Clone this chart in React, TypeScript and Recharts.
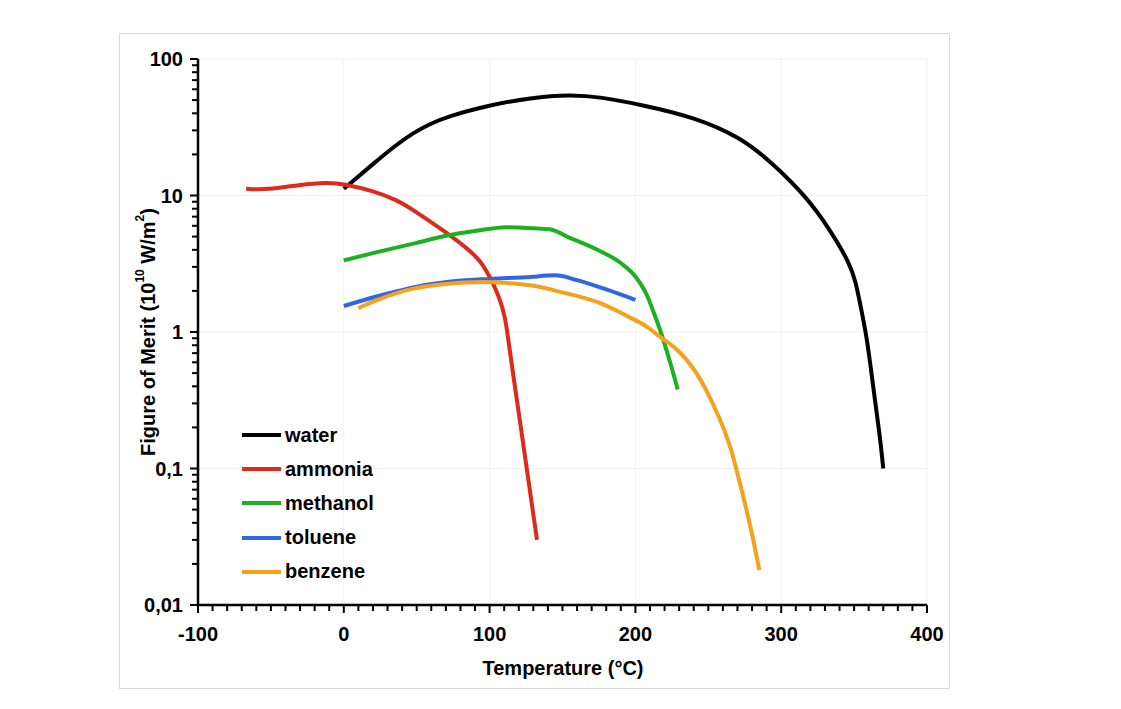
import React from 'react';
import { LineChart, Line, XAxis, YAxis, ReferenceLine, Legend } from 'recharts';

// ---- data (temperature °C, figure of merit 10^10 W/m^2) ----
const waterT = [0, 20, 35, 47.5, 59, 71, 100, 128, 155, 176, 205, 240, 272, 294, 318, 333.5, 347, 351.3, 354, 358.8, 363, 367.8, 370];
const waterV = [11.2, 17, 23.1, 28.7, 33.4, 37.9, 46, 52, 55, 52.7, 46, 37.6, 26.8, 17.3, 9.6, 5.6, 3.2, 2.29, 1.63, 0.92, 0.4, 0.17, 0.1];

const ammoniaT = [-67, -53, -30, -12, 0, 20, 36, 45, 71, 85, 93.4, 100.3, 107, 110.6, 112.6, 116, 121, 127, 132.5];
const ammoniaV = [11.2, 11.0, 12.0, 12.5, 12.2, 10.8, 9.3, 8.2, 5.3, 4.06, 3.37, 2.53, 1.77, 1.29, 0.92, 0.5, 0.216, 0.077, 0.03];

const methanolT = [0, 25, 50, 71, 90, 112, 130, 141, 155, 174, 190, 200, 208, 213, 217, 224, 229];
const methanolV = [3.35, 3.9, 4.5, 5.1, 5.5, 5.85, 5.75, 5.65, 4.9, 4.0, 3.2, 2.55, 1.85, 1.35, 1.03, 0.59, 0.38];

const tolueneT = [0, 25, 50, 75, 100, 125, 145, 160, 180, 200];
const tolueneV = [1.55, 1.85, 2.15, 2.35, 2.45, 2.52, 2.6, 2.4, 2.05, 1.72];

const benzeneT = [10, 25, 47, 70, 95, 128, 150, 175, 195, 208, 217, 228, 237, 245, 253, 265, 274, 280, 285];
const benzeneV = [1.5, 1.75, 2.07, 2.25, 2.32, 2.2, 1.95, 1.64, 1.3, 1.09, 0.92, 0.75, 0.59, 0.44, 0.3, 0.144, 0.062, 0.033, 0.018];

const seriesNames = ['water', 'ammonia', 'methanol', 'toluene', 'benzene'];
const seriesColors = ['#000000', '#dc2a1c', '#1fb01f', '#2f66e6', '#f6a11c'];
const seriesCurves: any[] = ['basis', 'basis', 'monotone', 'monotone', 'monotone'];

const xMajorTicks = [-100, 0, 100, 200, 300, 400];
const xMinorTicks = Array.from({ length: 51 }, (_, i) => -100 + i * 10);
const yMajorTicks = [0.01, 0.1, 1, 10, 100];
const yAllTicks = [
  0.01, 0.02, 0.03, 0.04, 0.05, 0.06, 0.07, 0.08, 0.09,
  0.1, 0.2, 0.3, 0.4, 0.5, 0.6, 0.7, 0.8, 0.9,
  1, 2, 3, 4, 5, 6, 7, 8, 9,
  10, 20, 30, 40, 50, 60, 70, 80, 90, 100,
];
const yTickLabels: Record<string, string> = { '0.01': '0,01', '0.1': '0,1', '1': '1', '10': '10', '100': '100' };

const build = (ts: number[], vs: number[]) => ts.map((t, i) => ({ t, v: vs[i] }));
const seriesData = [
  build(waterT, waterV),
  build(ammoniaT, ammoniaV),
  build(methanolT, methanolV),
  build(tolueneT, tolueneV),
  build(benzeneT, benzeneV),
];

const FONT = '"Liberation Sans", Arial, Helvetica, sans-serif';
const FS = 20;

const YTick = (props: any) => {
  const { x, y, payload } = props;
  const v = payload.value;
  const isMajor = yMajorTicks.some((m) => Math.abs(m - v) < 1e-9);
  const axisX = x + 15;
  return (
    <g>
      <line x1={axisX - (isMajor ? 8 : 6)} x2={axisX} y1={y} y2={y} stroke="#000" strokeWidth={2} />
      {isMajor && (
        <text x={x} y={y} dy="0.36em" textAnchor="end" fontFamily={FONT} fontWeight="bold" fontSize={FS} fill="#000">
          {yTickLabels[String(v)]}
        </text>
      )}
    </g>
  );
};

const XTick = (props: any) => {
  const { x, y, payload } = props;
  const v = payload.value;
  const isMajor = xMajorTicks.includes(v);
  const axisY = y - 22;
  return (
    <g>
      <line x1={x} x2={x} y1={axisY} y2={axisY + (isMajor ? 8 : 6)} stroke="#000" strokeWidth={2} />
      {isMajor && (
        <text x={x} y={y} dy="0.71em" textAnchor="middle" fontFamily={FONT} fontWeight="bold" fontSize={FS} fill="#000">
          {String(v)}
        </text>
      )}
    </g>
  );
};

const YLabel = () => (
  <text
    x={140}
    y={324}
    transform="rotate(-90, 140, 324)"
    textAnchor="middle"
    dominantBaseline="central"
    fontFamily={FONT}
    fontWeight="bold"
    fontSize={FS}
    fill="#000"
  >
    Figure of Merit (10
    <tspan dy={-8} fontSize={12}>10</tspan>
    <tspan dy={8}> W/m</tspan>
    <tspan dy={-8} fontSize={12}>2</tspan>
    <tspan dy={8}>)</tspan>
  </text>
);

const XLabel = () => (
  <text x={555} y={660} textAnchor="middle" dominantBaseline="central" fontFamily={FONT} fontWeight="bold" fontSize={FS} fill="#000">
    Temperature (°C)
  </text>
);

const LegendContent = (props: any) => {
  const payload = [...(props.payload || [])].sort(
    (a: any, b: any) => seriesNames.indexOf(a.value) - seriesNames.indexOf(b.value)
  );
  return (
    <div style={{ fontFamily: FONT, fontWeight: 'bold', fontSize: FS, color: '#000' }}>
      {payload.map((p: any) => (
        <div key={p.value} style={{ display: 'flex', alignItems: 'center', height: 34.2 }}>
          <div style={{ width: 39, height: 4, background: p.color, marginRight: 4 }} />
          <span>{p.value}</span>
        </div>
      ))}
    </div>
  );
};

export default function App() {
  return (
    <div style={{ position: 'relative', width: 1000, height: 693 }}>
      <div
        style={{
          position: 'absolute',
          left: 111,
          top: 25,
          width: 831,
          height: 656,
          border: '1px solid #d6d6d6',
          boxSizing: 'border-box',
        }}
      />
      <div style={{ position: 'absolute', left: 0, top: 0 }}>
        <LineChart width={1000} height={690} margin={{ top: 51, right: 81, bottom: 63, left: 130 }}>
          {[0, 100, 200, 300, 400].map((g) => (
            <ReferenceLine key={'vx' + g} x={g} stroke="#f1f1f1" strokeWidth={1} />
          ))}
          {[0.1, 1, 10, 100].map((g) => (
            <ReferenceLine key={'hy' + g} y={g} stroke="#f1f1f1" strokeWidth={1} />
          ))}
          <XAxis
            type="number"
            dataKey="t"
            domain={[-100, 400]}
            ticks={xMinorTicks}
            interval={0}
            allowDataOverflow
            height={30}
            tickSize={8}
            tickMargin={14}
            tickLine={false}
            axisLine={{ stroke: '#000', strokeWidth: 2.5 }}
            tick={<XTick />}
            label={<XLabel />}
          />
          <YAxis
            type="number"
            scale="log"
            domain={[0.01, 100]}
            ticks={yAllTicks}
            interval={0}
            allowDataOverflow
            width={60}
            tickSize={7}
            tickMargin={8}
            tickLine={false}
            axisLine={{ stroke: '#000', strokeWidth: 2.5 }}
            tick={<YTick />}
            label={<YLabel />}
          />
          {seriesNames.map((name, i) => (
            <Line
              key={name}
              name={name}
              data={seriesData[i]}
              dataKey="v"
              type={seriesCurves[i]}
              stroke={seriesColors[i]}
              strokeWidth={4}
              dot={false}
              activeDot={false}
              isAnimationActive={false}
            />
          ))}
          <Legend
            layout="vertical"
            align="center"
            verticalAlign="middle"
            content={<LegendContent />}
            wrapperStyle={{ position: 'absolute', left: 234, top: 410, width: 200, bottom: 'auto', right: 'auto' }}
          />
        </LineChart>
      </div>
    </div>
  );
}
